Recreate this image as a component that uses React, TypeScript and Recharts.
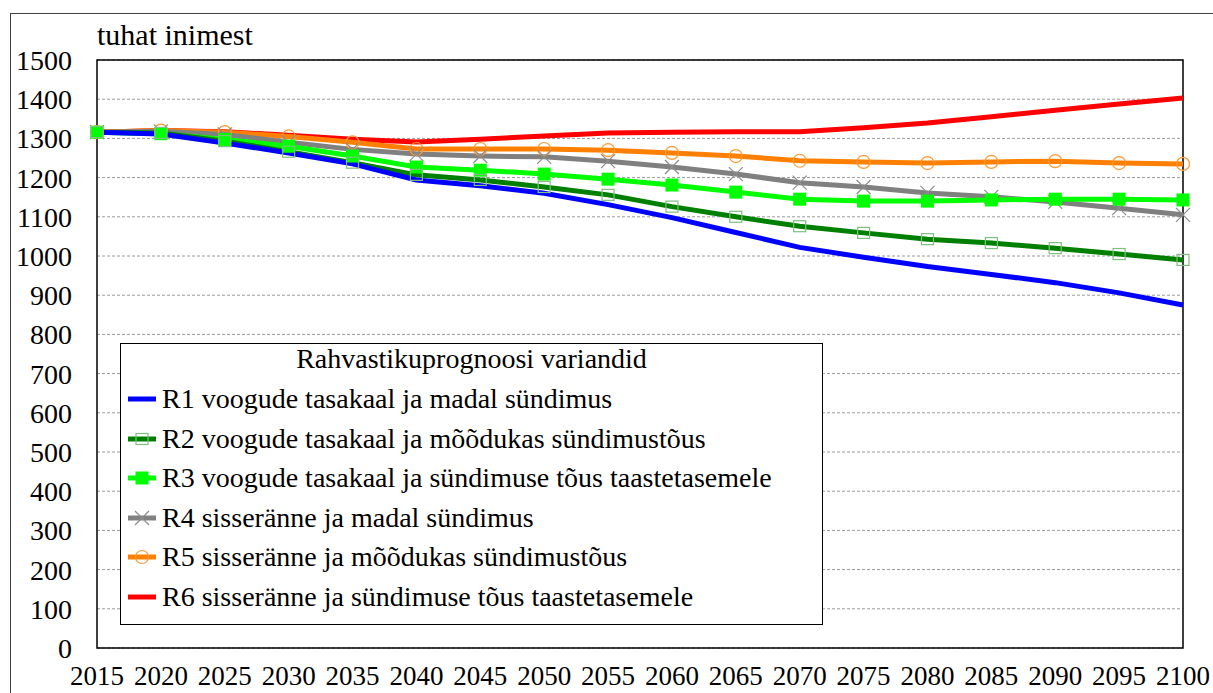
import React from 'react';
import { LineChart, Line, XAxis, YAxis, CartesianGrid, ReferenceArea, Legend } from 'recharts';

const years = [2015, 2020, 2025, 2030, 2035, 2040, 2045, 2050, 2055, 2060, 2065, 2070, 2075, 2080, 2085, 2090, 2095, 2100];
const r1 = [1316, 1311, 1288, 1263, 1235, 1194, 1179, 1160, 1131, 1098, 1060, 1022, 997, 973, 953, 932, 906, 875];
const r2 = [1316, 1314, 1293, 1266, 1238, 1207, 1194, 1176, 1156, 1126, 1100, 1076, 1059, 1043, 1033, 1020, 1005, 990];
const r3 = [1316, 1312, 1297, 1280, 1255, 1227, 1219, 1209, 1196, 1181, 1163, 1145, 1140, 1140, 1143, 1145, 1145, 1143];
const r4 = [1316, 1318, 1310, 1290, 1272, 1260, 1255, 1253, 1242, 1227, 1209, 1187, 1176, 1161, 1151, 1138, 1122, 1105];
const r5 = [1316, 1320, 1316, 1305, 1290, 1273, 1273, 1273, 1270, 1263, 1255, 1243, 1240, 1237, 1240, 1242, 1237, 1235];
const r6 = [1316, 1320, 1317, 1308, 1298, 1291, 1298, 1306, 1314, 1316, 1317, 1317, 1327, 1339, 1355, 1372, 1388, 1403];
const yTicks = [0, 100, 200, 300, 400, 500, 600, 700, 800, 900, 1000, 1100, 1200, 1300, 1400, 1500];

const seriesNames = [
  'R1 voogude tasakaal ja madal sündimus',
  'R2 voogude tasakaal ja mõõdukas sündimustõus',
  'R3 voogude tasakaal ja sündimuse tõus taastetasemele',
  'R4 sisseränne ja madal sündimus',
  'R5 sisseränne ja mõõdukas sündimustõus',
  'R6 sisseränne ja sündimuse tõus taastetasemele',
];
const legendTitle = 'Rahvastikuprognoosi variandid';
const unitLabel = 'tuhat inimest';

const data = years.map((year, i) => ({ year, r1: r1[i], r2: r2[i], r3: r3[i], r4: r4[i], r5: r5[i], r6: r6[i] }));

const FONT = '"Liberation Serif", "Times New Roman", serif';
const COLORS = ['#0000ff', '#008000', '#00ff00', '#808080', '#ff8000', '#ff0000'];

type MarkerKind = 'none' | 'hollowSquare' | 'square' | 'cross' | 'circle';
const MARKERS: MarkerKind[] = ['none', 'hollowSquare', 'square', 'cross', 'circle', 'none'];

function Marker({ kind, cx, cy }: { kind: MarkerKind; cx: number; cy: number }) {
  if (kind === 'hollowSquare') {
    return <rect x={cx - 6} y={cy - 5.5} width={12} height={11} fill="none" stroke="#7fbf7f" strokeWidth={1.2} />;
  }
  if (kind === 'square') {
    return <rect x={cx - 6.5} y={cy - 6.5} width={13} height={13} fill="#00ff00" />;
  }
  if (kind === 'cross') {
    return (
      <g stroke="#8c8c8c" strokeWidth={1.2}>
        <line x1={cx - 7} y1={cy - 7} x2={cx + 7} y2={cy + 7} />
        <line x1={cx - 7} y1={cy + 7} x2={cx + 7} y2={cy - 7} />
      </g>
    );
  }
  if (kind === 'circle') {
    return <circle cx={cx} cy={cy} r={6.5} fill="none" stroke="#ff9933" strokeWidth={1.2} />;
  }
  return null;
}

function dotFor(kind: MarkerKind) {
  if (kind === 'none') return false;
  return (props: any) => <Marker key={`${kind}-${props.index}`} kind={kind} cx={props.cx} cy={props.cy} />;
}

function LegendBox() {
  return (
    <div
      style={{
        width: 703,
        height: 282,
        boxSizing: 'border-box',
        border: '1.5px solid #000',
        background: '#fff',
        fontFamily: FONT,
        fontSize: 28,
        color: '#000',
        position: 'relative',
      }}
    >
      <div style={{ position: 'absolute', top: 0, left: 0, width: '100%', textAlign: 'center', lineHeight: '30px' }}>
        {legendTitle}
      </div>
      {seriesNames.map((name, i) => (
        <div
          key={name}
          style={{ position: 'absolute', left: 6, top: 40 + i * 39.6, height: 30, display: 'flex', alignItems: 'center', whiteSpace: 'nowrap' }}
        >
          <svg width={30} height={20} style={{ marginRight: 5 }}>
            <line x1={1} y1={10} x2={29} y2={10} stroke={COLORS[i]} strokeWidth={5} />
            <Marker kind={MARKERS[i]} cx={15} cy={10} />
          </svg>
          <span>{name}</span>
        </div>
      ))}
    </div>
  );
}

const keys = ['r1', 'r2', 'r3', 'r4', 'r5', 'r6'];
const drawOrder = [5, 4, 3, 2, 1, 0];

export default function App() {
  return (
    <div style={{ position: 'absolute', left: 0, top: 0, width: 1213, height: 693, overflow: 'hidden', background: '#fff', fontFamily: FONT }}>
      <div style={{ position: 'absolute', left: 10, top: 13, width: 1400, height: 900, border: '1.5px solid #404040' }} />
      <div style={{ position: 'absolute', left: 0, top: 0 }}>
        <LineChart width={1213} height={693} data={data} margin={{ top: 60, right: 30, bottom: 0, left: 0 }}>
          <CartesianGrid vertical={false} stroke="#9a9a9a" strokeDasharray="3 2" horizontalValues={yTicks} />
          <XAxis
            dataKey="year"
            type="number"
            domain={[2015, 2100]}
            ticks={years}
            interval={0}
            height={45}
            tickSize={0}
            tickMargin={18}
            axisLine={false}
            tick={{ fill: '#000', fontFamily: FONT, fontSize: 27 }}
          />
          <YAxis
            domain={[0, 1500]}
            ticks={yTicks}
            interval={0}
            width={97}
            tickSize={0}
            tickMargin={25}
            axisLine={false}
            tick={{ fill: '#000', fontFamily: FONT, fontSize: 28 }}
            label={{
              content: () => (
                <text x={97} y={45} fontFamily={FONT} fontSize={30} fill="#000">
                  {unitLabel}
                </text>
              ),
            }}
          />
          <ReferenceArea x1={2015} x2={2100} y1={0} y2={1500} fill="none" stroke="#000" strokeWidth={1.5} ifOverflow="visible" />
          {drawOrder.map((i) => (
            <Line
              key={keys[i]}
              dataKey={keys[i]}
              name={seriesNames[i]}
              type="linear"
              stroke={COLORS[i]}
              strokeWidth={5}
              dot={dotFor(MARKERS[i])}
              activeDot={false}
              isAnimationActive={false}
            />
          ))}
          <Legend
            layout="horizontal"
            verticalAlign="middle"
            align="center"
            content={() => <LegendBox />}
            wrapperStyle={{ left: 120, top: 343, width: 703, height: 282 }}
          />
        </LineChart>
      </div>
    </div>
  );
}
